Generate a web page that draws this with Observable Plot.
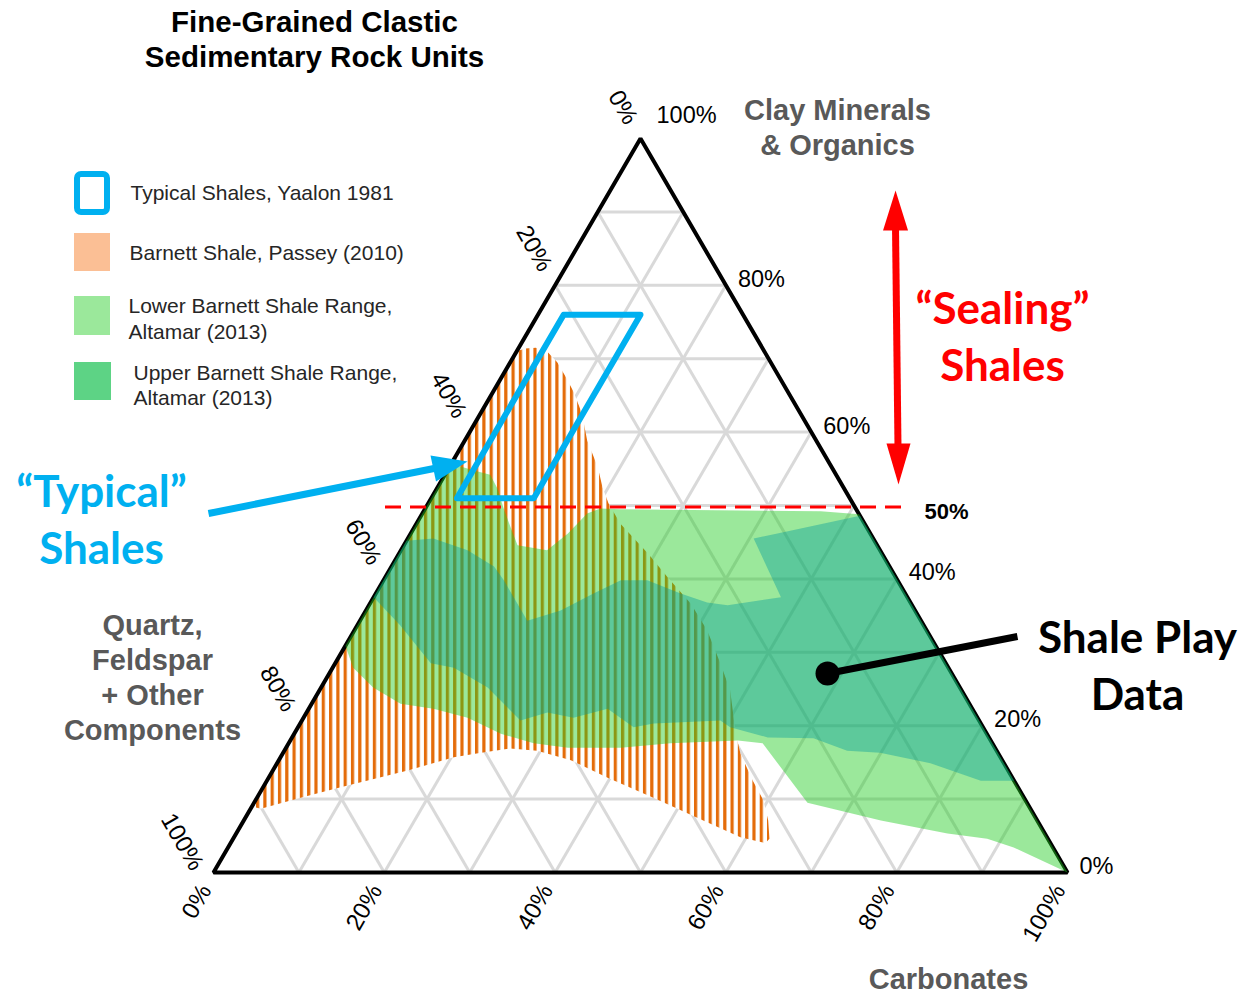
<!DOCTYPE html>
<html><head><meta charset="utf-8">
<script src="https://cdn.jsdelivr.net/npm/d3@7"></script>
<script src="https://cdn.jsdelivr.net/npm/@observablehq/plot@0.6"></script>
<style>body{margin:0;background:#fff;} #chart svg{display:block;}</style>
</head><body><div id="chart"></div>
<script>
// ---------------- data (percentages) ----------------
const gridSteps = [10, 20, 30, 40, 50, 60, 70, 80, 90];
const tickValues = [0, 20, 40, 60, 80, 100];
const tickLabels = ["0%", "20%", "40%", "60%", "80%", "100%"];
const sealingClay = 50;

// Typical shales, Yaalon 1981 (clay %, carbonate %)
const typicalClay = [76, 76, 51, 51];
const typicalCarb = [3, 12, 12, 3];

// Barnett Shale, Passey (2010)
const passeyClay = [9, 71, 71.4, 71.5, 70.8, 69.5, 67.3, 65.4, 62.5, 58.9, 55.2, 52.5, 50.3, 47.5, 43.5, 40.2, 36.6, 33.0, 28.5, 24.8, 18.9, 16.2, 12.5, 9.8, 7.1, 4.6, 4.0, 4.8, 7.1, 10.2, 12.9, 15.3, 16.6, 16.9, 16.3, 15.7, 13.9, 11.6, 10.2, 8.7];
const passeyCarb = [0, 0, 0.8, 2.0, 3.8, 5.5, 7.7, 9.5, 11.9, 14.3, 17.4, 19.3, 21.1, 23.9, 29.1, 33.1, 37.6, 41.3, 45.1, 48.1, 51.7, 53.6, 56.9, 59.5, 61.4, 62.8, 62.6, 59.3, 53.8, 46.4, 39.7, 34.2, 29.6, 26.3, 23.2, 20.3, 15.8, 9.1, 5.1, 1.2];

// Lower Barnett Shale Range, Altamar (2013)
const lowerClay = [55.7, 54.8, 54.2, 52.3, 49.7, 47.0, 44.6, 43.9, 46.2, 48.9, 49.6, 49.5, 49.2, 48.8, 0, 3.4, 4.6, 5.3, 7.1, 9.5, 17.6, 18.0, 17.6, 17.0, 17.0, 17.6, 18.9, 21.1, 22.3, 23.0, 25.2, 27.9, 30.9];
const lowerCarb = [0, 3.0, 5.3, 7.1, 9.1, 11.3, 13.3, 17.1, 18.4, 19.3, 20.5, 22.9, 46.5, 51.2, 100, 92.0, 88.3, 83.3, 74.6, 64.8, 55.5, 52.4, 44.7, 39.2, 33.0, 28.7, 24.2, 19.2, 14.6, 10.4, 6.1, 2.4, 0];

// Upper Barnett Shale Range, Altamar (2013)
const upperClay = [45.2, 45.5, 43.9, 41.7, 39.8, 34.3, 35.7, 38.0, 39.8, 39.8, 38.0, 36.8, 36.4, 37.5, 45.5, 46.3, 48.6, 12.5, 12.5, 12.5, 14.9, 16.3, 16.6, 18.3, 18.4, 19.8, 20.7, 20.3, 19.8, 22.3, 21.1, 21.8, 20.7, 25.2, 27.9, 28.5, 33.7, 37.5];
const upperCarb = [0, 3.0, 7.8, 12.0, 14.1, 19.6, 22.8, 25.5, 27.8, 30.9, 35.7, 39.4, 42.0, 47.7, 40.5, 43.3, 51.4, 87.5, 86.7, 83.6, 76.5, 69.9, 65.9, 61.1, 55.7, 50.6, 49.0, 41.4, 39.3, 35.0, 31.6, 28.2, 25.6, 19.5, 14.2, 11.2, 5.0, 0];

const legendLabels = ["Typical Shales, Yaalon 1981", "Barnett Shale, Passey (2010)", "Lower Barnett Shale Range,\nAltamar (2013)", "Upper Barnett Shale Range,\nAltamar (2013)"];
const titleText = "Fine-Grained Clastic\nSedimentary Rock Units";

// ---------------- layout ----------------
const W = 1244, H = 993, ML = 213, MR = 177, MT = 138, MB = 121;
const L = (px, py) => ({x: (px - ML) / (W - ML - MR), y: (H - MB - py) / (H - MT - MB)}); // layout helper for annotations
const tern = (clay, carb) => ({x: (carb + clay / 2) / 100, y: clay / 100});
const poly = (clays, carbs) => clays.map((k, i) => tern(k, carbs[i]));

const gridSegs = [];
for (const v of gridSteps) {
  gridSegs.push([tern(v, 0), tern(v, 100 - v)]);        // constant clay
  gridSegs.push([tern(0, v), tern(100 - v, v)]);        // constant carbonate
  gridSegs.push([tern(0, 100 - v), tern(100 - v, 0)]);  // constant quartz
}
const triangle = [tern(0, 0), tern(0, 100), tern(100, 0)];

const clayTicks = tickValues.map((v, i) => ({...tern(v, 100 - v), label: tickLabels[i], v}));
const carbTicks = tickValues.map((v, i) => ({...tern(0, v), label: tickLabels[i]}));
const quartzTicks = tickValues.map((v, i) => ({...tern(100 - v, 0), label: tickLabels[i], v}));

const BLUE = "#00b0f0", RED = "#ff0000", GRAY = "#595959";
const SANS = "'Liberation Sans', Arial, sans-serif";
const CAL = "Lato, 'Open Sans', sans-serif";

// arrow heads (tip, base1, base2) in layout pixels
const heads = [
  {id: "b", c: BLUE, pts: [[467, 461], [430, 455], [435.5, 481]]},
  {id: "r1", c: RED, pts: [[895, 190], [882.5, 230], [907.5, 230]]},
  {id: "r2", c: RED, pts: [[898, 484], [886, 443], [910, 443]]}
];
const headPts = heads.flatMap(h => h.pts.map(p => ({...L(p[0], p[1]), id: h.id, c: h.c})));

const shafts = [
  {a: L(208, 513), b: L(436, 467.5), c: BLUE, w: 7},
  {a: L(895, 226), b: L(897.5, 447), c: RED, w: 7},
  {a: L(827, 673), b: L(1017, 636), c: "black", w: 7}
];

const legendRows = [
  {...L(130, 191), t: legendLabels[0]},
  {...L(129, 251), t: legendLabels[1]},
  {...L(128, 317.5), t: legendLabels[2]},
  {...L(133, 384), t: legendLabels[3]}
];
const swatches = [
  {a: L(74, 233), b: L(110, 271), c: "#fbbf95"},
  {a: L(74, 296), b: L(110, 335), c: "#9be89b"},
  {a: L(74, 362), b: L(111, 400), c: "#5dd385"}
];

const chart = Plot.plot({
  width: W, height: H,
  marginLeft: ML, marginRight: MR, marginTop: MT, marginBottom: MB,
  x: {domain: [0, 1], axis: null},
  y: {domain: [0, 1], axis: null},
  style: {background: "white", overflow: "visible"},
  marks: [
    // grid
    Plot.link(gridSegs, {x1: d => d[0].x, y1: d => d[0].y, x2: d => d[1].x, y2: d => d[1].y, stroke: "#d9d9d9", strokeWidth: 3}),
    // Passey hatch
    Plot.line(poly(passeyClay, passeyCarb), {x: "x", y: "y", fill: "url(#hatch)", stroke: "none", curve: "linear-closed"}),
    // triangle
    Plot.line(triangle, {x: "x", y: "y", stroke: "black", strokeWidth: 4, curve: "linear-closed", strokeLinejoin: "miter"}),
    // Altamar ranges
    Plot.line(poly(lowerClay, lowerCarb), {x: "x", y: "y", fill: "#21cc21", fillOpacity: 0.45, stroke: "none", curve: "linear-closed"}),
    Plot.line(poly(upperClay, upperCarb), {x: "x", y: "y", fill: "#009a9b", fillOpacity: 0.4, stroke: "none", curve: "linear-closed"}),
    // typical shales
    Plot.line(poly(typicalClay, typicalCarb), {x: "x", y: "y", stroke: BLUE, strokeWidth: 6, curve: "linear-closed", strokeLinejoin: "round"}),
    // 50% sealing line
    Plot.ruleY([sealingClay / 100], {x1: L(385, 0).x, x2: L(910, 0).x, dy: 1.5, stroke: RED, strokeWidth: 3, strokeDasharray: "16,9"}),
    Plot.text([sealingClay + "%"], {x: L(924, 511).x, y: sealingClay / 100, dy: 6, text: d => d, textAnchor: "start", fontSize: 22, fontWeight: "bold", fontFamily: SANS, fill: "black"}),
    // tick labels
    Plot.text(clayTicks.filter(d => d.v < 100), {x: "x", y: "y", text: "label", textAnchor: "start", dx: 12, dy: -6, fontSize: 23.5, fontFamily: SANS, fill: "black"}),
    Plot.text(clayTicks.filter(d => d.v === 100), {x: "x", y: "y", text: "label", textAnchor: "start", dx: 16, dy: -23, fontSize: 23.5, fontFamily: SANS, fill: "black"}),
    Plot.text(carbTicks, {x: "x", y: "y", text: "label", textAnchor: "end", rotate: -60, dx: -8, dy: 14, fontSize: 24, fontFamily: SANS, fill: "black"}),
    Plot.text(quartzTicks.filter(d => d.v < 100), {x: "x", y: "y", text: "label", textAnchor: "end", rotate: 60, dx: -9, dy: -16, fontSize: 24, fontFamily: SANS, fill: "black"}),
    Plot.text(quartzTicks.filter(d => d.v === 100), {x: "x", y: "y", text: "label", textAnchor: "end", rotate: 60, dx: -16, dy: -4, fontSize: 24, fontFamily: SANS, fill: "black"}),
    // axis titles
    Plot.text([{...L(837, 125.5), t: "Clay Minerals\n& Organics"}, {...L(152, 676), t: "Quartz,\nFeldspar\n+ Other\nComponents"}, {...L(948, 977), t: "Carbonates"}],
      {x: "x", y: "y", text: "t", fontSize: 29, fontWeight: "bold", fontFamily: SANS, fill: GRAY, lineHeight: 1.2}),
    // title
    Plot.text([{...L(314, 37.5), t: titleText}], {x: "x", y: "y", text: "t", fontSize: 29.5, fontWeight: "bold", fontFamily: SANS, fill: "black", lineHeight: 1.2}),
    // legend
    Plot.rect([{a: L(77, 174), b: L(107, 212)}], {x1: d => d.a.x, x2: d => d.b.x, y1: d => d.a.y, y2: d => d.b.y, fill: "white", stroke: BLUE, strokeWidth: 6, rx: 4}),
    Plot.rect(swatches, {x1: d => d.a.x, x2: d => d.b.x, y1: d => d.a.y, y2: d => d.b.y, fill: d => d.c}),
    Plot.text(legendRows, {x: "x", y: "y", text: "t", textAnchor: "start", fontSize: 21, fontFamily: SANS, fill: "#262626", lineHeight: 1.2}),
    // arrows and pointer
    Plot.link(shafts, {x1: d => d.a.x, y1: d => d.a.y, x2: d => d.b.x, y2: d => d.b.y, stroke: d => d.c, strokeWidth: 7}),
    Plot.line(headPts, {x: "x", y: "y", z: "id", fill: d => d.c, stroke: "none", curve: "linear-closed"}),
    Plot.dot([L(827, 673)], {x: "x", y: "y", r: 12, fill: "black"}),
    // callouts
    Plot.text([{...L(101, 516.5), t: "\u201CTypical\u201D\nShales", c: BLUE}, {...L(1002, 334), t: "\u201CSealing\u201D\nShales", c: RED}, {...L(1137, 662.5), t: "Shale Play\nData", c: "black"}],
      {x: "x", y: "y", text: "t", fill: d => d.c, fontSize: 44, fontWeight: "bold", fontFamily: CAL, lineHeight: 1.3})
  ]
});

// hatch pattern for the Passey region
const defs = d3.select(chart).insert("defs", ":first-child");
const pat = defs.append("pattern").attr("id", "hatch").attr("patternUnits", "userSpaceOnUse").attr("width", 7.3).attr("height", 10);
pat.append("rect").attr("width", 7.3).attr("height", 10).attr("fill", "white");
pat.append("rect").attr("x", 0).attr("width", 3.2).attr("height", 10).attr("fill", "#e46c0a");

document.getElementById("chart").append(chart);
</script>
</body></html>
